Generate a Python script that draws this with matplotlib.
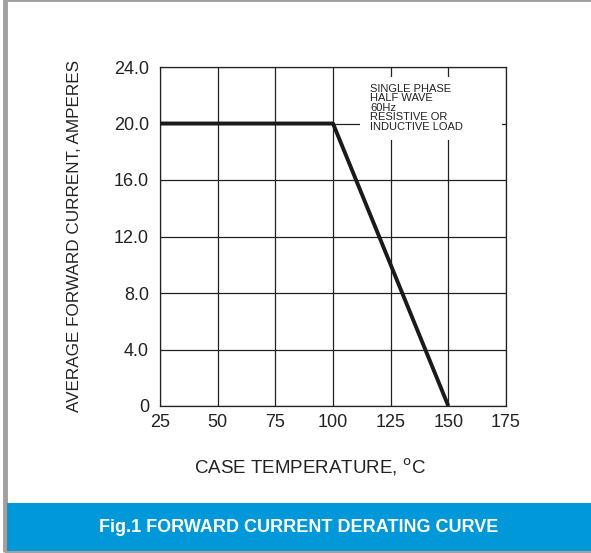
import matplotlib.pyplot as plt
from matplotlib.patches import Rectangle

# derating curve: case temperature (C) vs average forward current (A)
temp = [25, 100, 150]
current = [20.0, 20.0, 0.0]

x_ticks = [25, 50, 75, 100, 125, 150, 175]
y_ticks = [0, 4, 8, 12, 16, 20, 24]
y_labels = ["0", "4.0", "8.0", "12.0", "16.0", "20.0", "24.0"]

note_lines = ["SINGLE PHASE", "HALF WAVE", "60Hz", "RESISTIVE OR", "INDUCTIVE LOAD"]

plt.rcParams['font.family'] = ['Liberation Sans', 'DejaVu Sans']

W, H = 591, 553
fig = plt.figure(figsize=(W / 100, H / 100), dpi=100)
fig.patch.set_facecolor('white')

# outer frame and blue caption band
fig.patches.append(Rectangle((5/W, 1/H), 1, 1, transform=fig.transFigure,
                             facecolor='none', edgecolor='#a0a0a0', linewidth=3.5))
fig.patches.append(Rectangle((7/W, 2/H), 1, 48/H, transform=fig.transFigure,
                             facecolor='#0098d8', edgecolor='none'))
fig.text(299/W, 1 - 527/H, "Fig.1 FORWARD CURRENT DERATING CURVE", color='white',
         fontsize=13, fontweight='bold', ha='center', va='center')

ax = fig.add_axes([160/W, 1 - 406/H, 346/W, 339/H])
ax.set_xlim(25, 175)
ax.set_ylim(0, 24)
ax.set_xticks(x_ticks)
ax.set_yticks(y_ticks)
ax.set_yticklabels(y_labels)
ax.tick_params(length=0, labelsize=13, colors='#222222')
ax.tick_params(axis='y', pad=8)
ax.tick_params(axis='x', pad=6)
ax.grid(True, color='#222222', linewidth=0.9)
for s in ax.spines.values():
    s.set_linewidth(0.9)
    s.set_color('#222222')

ax.plot(temp, current, color='#1a1a1a', linewidth=2.8, solid_capstyle='butt', zorder=3)

# white box behind the note hides the grid
ax.add_patch(Rectangle((0.578, 0.785), 0.41, 0.185, transform=ax.transAxes,
                       facecolor='white', edgecolor='none', zorder=2.5))
step = 9.6 / 339
for i, line in enumerate(note_lines):
    ax.text(0.607, (406 - 91.5) / 339 - i * step, line, transform=ax.transAxes,
            fontsize=8.0, va='baseline', ha='left', color='#222222', zorder=4)

fig.text(310/W, 1 - 467/H, "CASE TEMPERATURE, $^{\\mathrm{o}}$C", fontsize=13.5,
         ha='center', va='center', color='#222222')
fig.text(75/W, 1 - 236/H, "AVERAGE FORWARD CURRENT, AMPERES", fontsize=12.3,
         rotation=90, ha='center', va='center', color='#222222')

fig.savefig("out.png", dpi=100)
